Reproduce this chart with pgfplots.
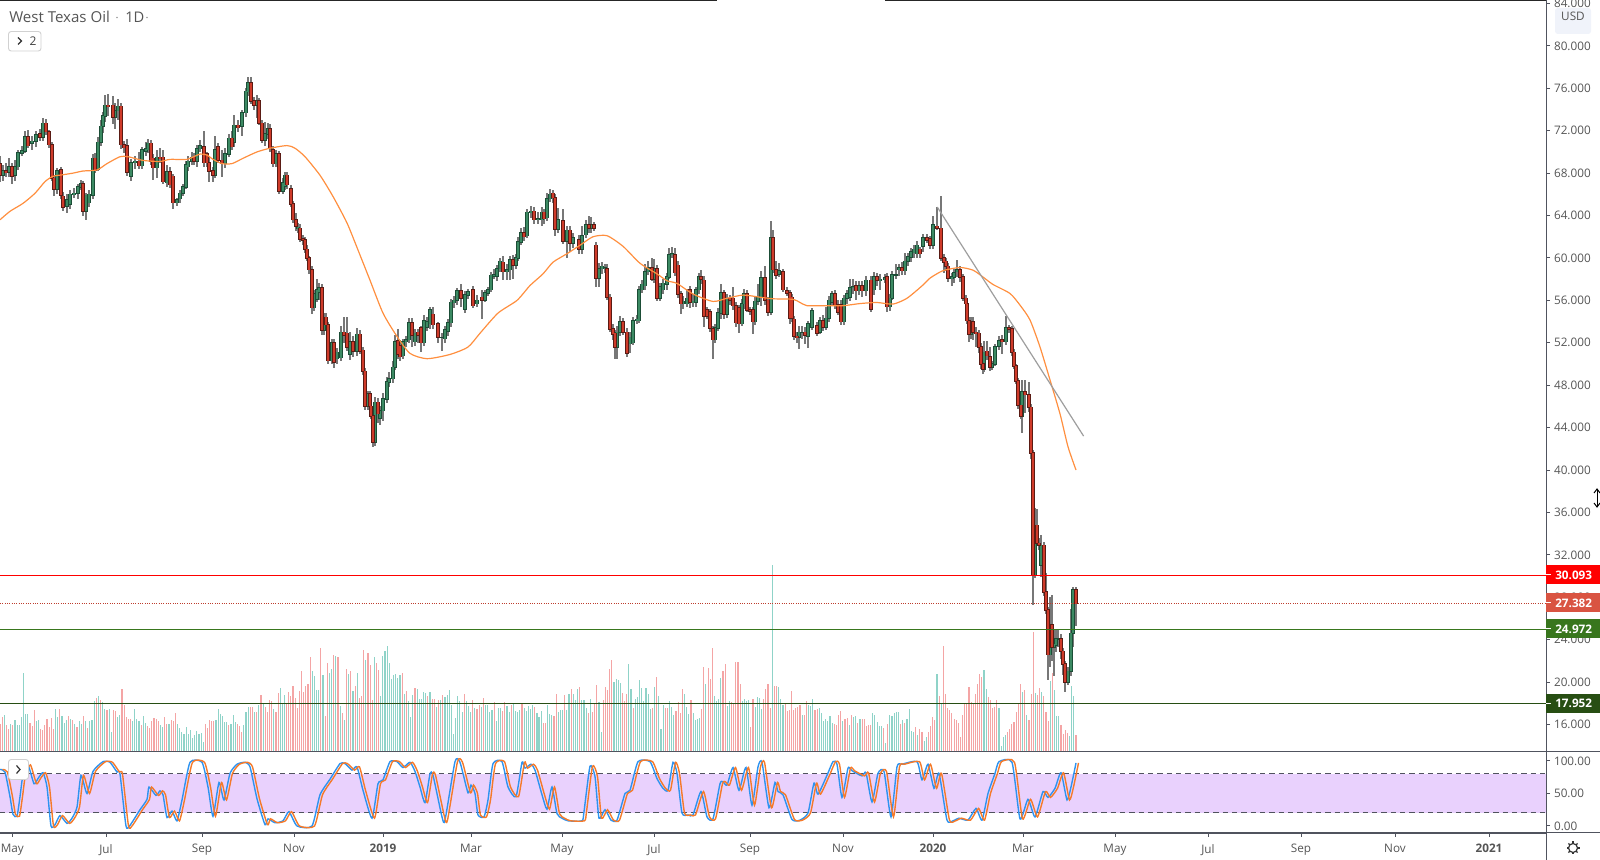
\documentclass[border=0pt]{standalone}
\usepackage{pgfplots}
\pgfplotsset{compat=1.18}
\usepackage{pgfplotstable}
\usepackage{fontspec}
\setmainfont{Open Sans}
\definecolor{txt}{HTML}{555555}
\definecolor{axl}{HTML}{50535E}
\definecolor{upb}{HTML}{3C8A63}
\definecolor{upd}{HTML}{1B4D36}
\definecolor{dnb}{HTML}{CF3B2A}
\definecolor{dnd}{HTML}{5A1B14}
\definecolor{wick}{HTML}{777777}
\definecolor{volr}{HTML}{F4A5A5}
\definecolor{volg}{HTML}{8FD3C8}
\definecolor{band}{HTML}{E9D1FD}
\definecolor{ma}{HTML}{FF8F3F}
\definecolor{kl}{HTML}{2E93F0}
\definecolor{dl}{HTML}{F57A2A}
\definecolor{t27}{RGB}{217,84,66}
\definecolor{t27l}{RGB}{190,60,45}
\definecolor{t25}{RGB}{56,118,29}
\definecolor{t18}{RGB}{39,78,19}
\definecolor{usdb}{HTML}{F0F3FA}
\pgfplotstableread{
x o c h l
0 68.9 67.8 69.6 67.2
3 67.8 68.2 68.8 67.3
6 68.2 68.1 69.0 67.6
9 68.1 68.6 69.4 67.6
12 68.6 67.7 69.0 67.0
15 67.8 68.6 69.2 67.3
18 68.6 69.9 70.2 68.3
22 69.9 70.1 70.6 69.6
25 70.1 71.4 72.0 69.9
28 71.4 70.6 72.1 70.4
32 70.8 71.0 71.5 70.2
36 71.0 71.6 72.0 70.5
40 71.7 71.4 72.2 71.0
43 71.4 72.7 73.2 71.0
46 72.7 71.9 73.1 71.6
49 71.9 70.7 72.1 70.4
52 70.7 67.5 70.9 67.3
54 67.5 66.5 67.8 65.8
57 66.5 68.2 68.5 66.0
61 68.3 65.9 68.6 65.6
63 65.8 64.8 66.2 64.4
67 64.9 65.5 66.0 64.2
70 65.1 66.0 66.4 64.6
74 66.0 66.1 66.6 65.7
78 66.1 66.7 67.0 65.6
81 66.7 67.0 67.4 66.4
83 67.0 64.4 67.3 64.0
86 64.4 65.9 66.1 63.6
89 65.2 66.0 66.4 64.8
93 65.9 69.4 69.8 65.6
95 69.4 68.3 69.9 68.0
98 68.4 70.9 71.4 68.2
101 70.9 72.4 73.0 70.6
103 72.4 73.4 73.8 71.8
105 73.4 74.4 75.4 72.8
108 74.4 74.3 75.5 73.4
113 74.4 73.3 75.3 72.6
115 73.3 73.9 74.6 72.2
118 73.9 74.3 75.0 73.0
121 74.3 70.7 74.6 70.3
124 70.7 70.4 71.0 69.9
127 70.6 68.1 71.2 67.7
131 67.7 69.0 69.3 67.3
135 69.0 69.1 69.6 68.4
139 69.1 68.7 70.0 68.4
142 68.7 70.2 70.5 68.4
146 70.1 70.3 70.9 69.6
148 70.2 70.8 71.2 69.9
151 70.8 69.1 71.1 68.8
153 69.4 68.5 69.8 67.4
157 68.5 69.5 70.2 67.5
160 69.5 69.4 70.4 69.0
163 69.5 67.2 70.2 67.0
167 67.1 68.1 68.8 66.7
170 68.1 66.9 68.6 66.6
173 67.7 65.2 67.9 64.6
177 65.2 65.5 65.7 64.9
180 65.6 66.1 66.4 65.2
183 66.1 66.7 67.0 65.8
186 66.7 68.8 69.1 66.5
188 68.6 69.1 69.6 68.2
192 69.1 69.5 70.0 68.8
194 69.5 69.1 69.9 68.8
197 69.1 70.3 70.7 68.6
200 70.3 70.6 71.1 70.0
204 70.5 69.0 72.0 68.6
207 69.8 69.0 70.0 68.6
209 69.0 68.2 69.5 67.2
213 68.2 67.8 68.6 67.2
215 67.8 70.2 71.5 67.5
218 70.5 69.2 70.8 69.0
222 69.2 68.9 70.2 67.6
225 68.9 69.8 70.4 68.5
229 69.8 71.3 71.7 69.5
232 71.3 70.5 72.0 70.2
234 70.9 72.5 73.5 70.5
238 72.5 72.3 73.0 71.9
242 72.4 73.7 74.0 71.5
246 73.7 75.7 76.0 73.3
248 75.7 76.5 77.1 75.3
251 76.5 74.8 77.1 74.5
254 74.8 74.4 75.2 74.0
257 74.4 74.8 75.4 73.2
259 74.8 72.7 75.1 72.5
262 72.7 71.1 73.0 70.8
265 71.1 71.7 72.8 70.6
268 71.7 72.2 72.7 71.2
270 72.2 70.3 72.6 70.0
273 70.2 68.9 70.6 68.6
276 68.9 69.8 70.2 68.6
279 69.8 66.3 70.1 66.0
283 66.3 67.1 67.5 66.0
285 66.8 67.8 68.1 66.4
287 67.8 66.9 68.1 66.5
291 66.5 65.1 66.9 64.8
293 65.1 63.6 65.4 63.3
296 63.6 63.0 64.2 62.5
298 62.8 62.9 63.3 62.4
300 62.8 61.8 63.2 61.5
303 61.8 61.7 62.2 61.2
305 61.7 60.8 62.0 60.5
307 60.8 60.0 61.2 59.7
309 60.0 58.9 60.2 58.5
312 58.9 55.3 59.2 54.7
314 55.3 56.6 57.0 55.0
317 56.1 57.0 58.0 55.8
319 56.8 57.2 57.6 56.0
322 57.2 53.2 57.5 52.7
324 53.2 54.4 54.8 52.7
326 54.4 53.7 54.8 53.3
328 53.7 50.3 54.0 50.0
332 50.3 52.0 52.4 50.0
334 52.0 50.2 52.4 49.6
337 50.5 51.1 51.5 50.0
341 50.6 53.0 53.6 50.3
344 53.0 52.7 54.4 52.0
347 52.9 51.6 54.4 51.2
350 50.9 52.1 53.0 50.4
353 52.1 51.2 52.6 50.7
357 51.2 52.8 53.4 50.8
360 52.8 51.2 53.2 50.9
363 51.3 49.3 51.6 49.0
365 49.3 46.0 49.6 45.7
368 46.0 47.2 47.5 45.7
370 47.2 46.0 47.5 45.7
371 46.0 45.1 46.3 44.8
373 45.1 42.6 45.4 42.2
375 42.6 46.4 46.9 42.3
378 46.4 45.3 46.8 44.4
380 44.9 45.6 46.0 44.2
383 45.6 46.7 47.3 44.6
387 46.7 48.3 48.8 46.3
389 48.3 48.6 49.2 47.8
393 48.6 49.7 50.3 48.2
395 49.7 52.1 52.7 49.4
398 52.2 50.9 53.3 50.5
400 51.7 50.7 52.3 50.3
403 50.8 52.1 52.4 50.5
406 52.1 52.3 52.6 51.6
409 52.3 53.9 54.3 52.0
412 53.9 52.7 54.3 51.6
415 52.1 52.9 53.3 51.7
418 53.0 52.7 53.3 52.0
421 53.4 52.0 53.6 51.1
424 52.0 54.1 54.6 51.7
427 53.5 54.0 54.4 53.1
430 53.8 55.1 55.4 53.3
433 54.7 53.7 55.4 53.3
438 53.8 52.5 54.0 52.0
442 52.5 52.5 52.9 51.2
445 52.4 53.2 53.6 52.0
448 53.1 53.9 54.2 52.6
451 53.9 55.8 56.1 53.5
454 55.8 56.0 56.4 55.3
457 56.0 56.9 57.2 55.6
461 56.9 56.2 57.5 55.4
465 55.2 56.5 56.9 54.8
468 56.5 56.8 57.1 56.1
473 57.0 55.5 57.4 55.3
477 55.7 56.0 56.5 55.4
482 56.3 56.0 57.0 54.2
485 56.0 56.7 57.0 55.8
488 56.7 57.0 57.3 56.4
491 57.0 58.35 58.7 56.8
494 58.3 58.4 59.0 58.0
497 58.3 59.0 59.3 57.8
500 59.0 59.7 60.0 58.7
503 59.6 58.7 60.2 57.9
507 58.7 58.9 59.4 57.9
510 58.9 59.8 60.2 57.9
513 59.8 59.3 60.3 58.0
516 59.3 60.0 60.4 59.0
518 60.0 61.5 62.0 59.7
521 61.5 62.4 62.8 61.2
524 62.4 62.0 62.9 61.6
527 62.1 64.3 64.6 61.9
531 64.3 64.4 64.9 63.8
534 64.4 63.6 64.8 63.2
538 63.6 63.7 64.3 63.2
542 63.6 64.3 64.8 63.0
544 64.3 63.7 64.6 63.2
547 63.8 65.6 66.1 63.5
550 65.6 66.0 66.5 65.3
553 66.1 65.7 66.4 65.2
555 65.7 62.7 66.0 62.1
558 62.7 63.6 64.7 62.4
563 63.5 61.6 64.6 61.3
567 61.6 62.6 63.0 60.0
570 62.6 61.4 63.0 60.6
573 61.4 61.9 62.4 60.9
579 61.7 60.8 62.2 60.4
582 60.8 62.1 63.0 60.4
586 62.2 63.1 63.6 61.9
589 63.1 62.8 64.0 62.4
591 62.8 63.1 63.9 62.4
594 63.1 62.8 63.4 62.5
596 61.2 58.1 61.5 57.3
599 58.1 59.0 59.5 57.3
602 59.0 59.2 59.6 58.5
605 59.0 59.1 59.4 58.6
607 59.0 56.3 59.4 56.0
610 56.3 53.3 56.6 53.0
613 53.3 52.8 53.8 52.3
615 52.9 51.6 53.2 50.5
617 51.6 53.0 53.6 50.5
620 53.0 54.0 54.5 52.6
623 54.0 53.0 54.3 52.7
627 53.0 51.0 53.4 50.7
630 51.9 52.5 53.0 51.0
633 52.0 54.1 54.4 51.8
637 54.1 54.2 54.6 53.8
639 54.1 57.0 57.4 53.9
642 57.0 57.5 57.9 56.7
645 57.4 58.7 59.4 57.0
648 58.7 59.1 59.7 58.4
652 59.1 58.0 60.0 57.8
654 58.0 59.0 59.9 57.6
657 59.0 56.2 59.3 55.9
660 56.2 57.3 57.6 55.9
663 57.0 57.6 58.0 56.6
667 57.5 58.2 58.6 57.0
669 58.2 60.3 60.9 58.0
672 60.3 60.4 61.0 60.0
675 60.3 58.6 60.9 58.3
678 59.3 56.6 59.7 56.2
681 56.6 55.7 56.9 54.7
683 55.7 55.9 56.4 55.2
687 55.7 56.2 57.1 55.4
690 57.0 55.8 57.4 55.3
693 55.8 55.9 56.6 55.4
696 55.8 57.0 57.3 55.4
699 57.0 58.2 58.6 56.6
701 58.2 58.0 58.9 57.5
704 57.9 54.5 58.3 53.5
707 55.1 54.5 55.4 54.2
710 54.9 53.4 55.2 53.0
713 53.3 52.3 53.6 50.5
715 52.3 53.4 53.8 52.0
718 53.4 54.8 55.3 53.1
721 54.8 56.7 57.5 54.2
724 56.7 54.7 57.0 54.2
727 54.7 56.2 56.6 54.3
730 56.2 56.0 56.5 55.6
733 56.2 55.5 57.3 55.1
736 55.5 53.9 55.8 53.5
739 55.3 53.8 55.6 52.9
742 53.8 55.7 56.1 53.6
744 55.7 56.6 57.1 55.2
747 56.6 55.1 57.0 54.9
750 55.1 55.0 55.4 54.6
753 55.1 54.0 55.4 52.8
755 54.0 55.9 56.3 53.7
758 55.9 56.3 57.5 55.6
761 56.3 58.1 58.8 55.5
765 58.1 56.0 59.2 55.6
768 56.0 54.9 56.3 54.5
771 54.9 61.9 63.5 54.6
773 61.9 58.9 62.6 58.6
776 58.9 58.4 59.7 58.0
779 58.5 58.8 59.5 58.2
783 58.7 57.0 59.0 56.8
787 56.9 56.7 57.3 56.4
790 56.7 54.3 57.0 53.8
792 56.3 54.3 56.6 54.0
794 54.2 52.6 54.5 52.3
797 52.6 52.5 53.0 52.0
799 52.5 53.0 53.6 51.4
802 53.0 53.0 53.6 52.4
805 53.0 52.7 53.5 51.9
808 52.6 53.8 54.1 51.5
812 53.5 55.0 55.3 53.2
817 53.6 52.9 54.0 52.6
820 53.0 54.1 54.4 52.8
823 54.1 53.5 54.6 53.1
826 53.5 54.3 55.4 53.2
829 54.3 56.0 56.4 54.0
832 55.8 56.6 56.9 55.5
835 56.6 55.6 57.0 55.2
838 55.6 54.9 56.0 54.6
841 55.6 54.0 56.0 53.7
844 54.0 56.2 56.5 53.7
847 56.2 56.6 57.0 55.7
850 56.3 57.2 58.0 55.9
853 57.2 57.3 58.0 56.6
856 57.4 56.9 57.8 56.0
859 56.9 57.4 57.8 56.5
862 57.4 56.9 57.8 56.3
866 56.9 57.9 58.3 56.4
871 57.9 55.2 58.3 54.9
874 57.0 58.2 58.7 56.5
877 58.2 57.9 58.6 57.4
880 57.9 58.0 58.5 57.0
885 58.0 58.1 58.5 57.6
887 58.2 55.4 58.6 54.9
890 55.4 56.2 56.6 55.0
892 56.2 58.4 58.8 56.0
896 58.4 58.4 59.4 58.0
899 58.9 59.1 59.4 58.3
902 59.1 58.8 59.6 58.4
905 58.8 59.7 60.5 58.4
908 59.7 60.1 60.5 59.2
911 60.1 60.6 60.9 59.6
914 60.5 60.8 61.2 60.0
917 60.4 61.2 61.6 60.0
920 60.8 60.4 61.0 60.0
923 61.1 61.9 62.3 60.6
927 61.9 61.7 62.3 61.4
930 61.8 61.2 62.1 60.8
933 61.2 63.1 64.0 60.8
937 63.0 62.8 64.8 62.6
941 62.8 60.0 65.8 59.7
944 60.0 59.6 60.4 58.6
946 59.7 59.2 60.0 58.8
948 59.2 58.1 59.5 57.7
952 58.1 58.2 58.6 57.4
954 58.2 58.6 59.0 57.6
957 58.7 58.9 59.8 58.2
960 58.9 58.2 59.2 57.7
963 58.2 56.2 58.5 55.9
966 56.2 55.7 56.5 55.3
967 55.7 54.1 56.0 53.8
969 54.1 52.8 54.4 52.1
971 52.8 54.0 54.4 52.4
973 54.0 53.0 54.4 52.3
976 53.0 52.9 53.5 51.6
979 52.9 51.6 53.2 51.0
981 51.6 50.0 52.0 49.5
983 50.0 49.5 50.3 49.1
984 49.5 51.1 52.2 49.2
987 51.2 50.8 52.2 50.4
990 50.7 49.7 51.6 49.3
992 49.7 50.0 50.3 49.4
995 50.0 51.6 51.9 49.8
999 51.7 52.2 52.6 51.3
1002 52.3 52.1 52.7 50.9
1006 52.1 53.4 54.5 51.8
1009 53.4 53.3 53.7 52.9
1012 53.3 51.1 53.6 50.8
1014 51.1 49.8 51.4 49.5
1016 49.8 48.4 50.0 48.1
1018 48.4 46.1 48.7 45.8
1021 46.1 45.1 46.4 44.8
1022 45.1 47.4 48.5 43.5
1025 47.4 47.1 48.5 45.4
1029 47.1 45.9 48.3 45.5
1031 45.9 41.6 46.2 41.0
1033 41.6 30.1 41.9 27.3
1035 30.1 34.8 36.4 29.8
1037 34.8 33.1 36.3 32.8
1039 33.1 32.9 33.6 32.5
1041 31.0 32.9 33.9 29.9
1044 32.9 28.5 33.2 28.1
1046 28.5 26.8 30.3 26.4
1048 26.8 22.6 27.1 20.2
1050 22.6 25.4 28.0 21.4
1052 25.4 23.3 28.2 22.0
1054 23.3 23.6 24.9 20.6
1056 23.5 24.1 25.0 22.8
1058 24.1 24.1 25.0 23.3
1061 24.1 22.9 24.5 22.2
1063 22.9 21.7 23.2 20.7
1065 21.7 20.0 22.0 19.1
1068 20.0 21.0 21.4 19.7
1071 21.0 24.6 26.9 20.6
1073 24.6 28.7 29.0 23.3
1076 28.7 27.382 29.0 25.3
}\candles
\pgfplotstableread{
v
-28
-35
37
-27
-23
28
-27
32
27
27
35
79
38
38
-29
-26
-42
31
32
-23
-22
-27
-33
-25
-34
-23
43
35
-43
36
29
32
-36
33
-32
28
-25
31
28
-36
31
-24
31
32
51
-54
56
-52
50
43
-42
43
20
-42
-41
35
37
-63
-47
-35
-33
-33
31
43
33
31
-27
36
29
-26
-24
-31
-34
-33
-31
27
25
-35
-28
28
-32
-31
-39
28
24
20
18
25
18
22
14
17
21
18
19
10
-28
-24
-32
-31
-31
32
43
38
36
30
30
-27
28
37
30
-28
-26
-20
27
40
45
-45
-45
40
-40
47
-57
49
-45
-40
-52
-51
43
-40
-59
64
49
57
-48
-60
-56
-66
-54
-44
-61
-81
-60
-66
-68
-95
81
76
62
62
-104
77
-36
-89
79
83
-97
96
-95
46
-39
32
-83
78
-81
61
-66
79
-54
-56
-102
92
-99
-87
-52
95
-89
-82
56
96
101
106
89
73
77
78
74
77
-79
58
-61
51
35
57
-64
63
53
53
60
59
-56
60
-53
-53
45
-52
52
-57
55
57
62
47
18
34
56
51
40
-58
51
46
40
-52
44
-43
-47
45
-54
47
47
40
42
-50
31
44
44
-41
-50
46
40
-47
49
41
40
42
-49
44
41
46
43
47
-45
39
35
41
-29
-29
47
38
37
-36
-58
40
42
42
-57
42
58
-63
58
52
63
-65
52
52
44
-39
53
-40
-49
-67
50
20
-52
-65
-62
-83
-92
70
73
72
69
-59
-51
-58
88
63
-44
53
55
72
64
51
64
58
43
-44
65
-75
56
23
47
-44
-44
51
45
37
-41
-50
-39
-63
58
45
38
-52
39
32
33
34
-43
-85
68
-84
-73
-104
56
51
53
74
-81
-88
46
51
-50
-49
-90
-90
-68
51
53
51
52
-25
-53
45
55
54
43
-53
-63
-68
-44
187
-66
-66
65
53
47
-49
-41
-42
-61
-42
-44
-45
-47
37
-37
-51
47
46
53
-42
-43
44
39
31
33
31
36
29
-28
-27
-37
-41
31
-33
-34
27
-37
35
36
-29
33
-33
-33
-26
-27
-27
39
37
30
26
26
-24
9
-28
37
36
39
40
40
-28
32
-29
33
43
21
20
-25
17
-23
-20
11
15
-20
-26
-35
-32
78
-56
49
-106
-58
-44
-42
-39
-33
-32
-29
-15
-37
-49
-49
-65
-50
-49
-58
-68
-78
-75
82
63
-55
-52
-44
-45
-52
44
6
15
17
-20
-23
-28
-30
-40
-49
-68
60
-62
37
-32
-58
-120
59
-57
-64
60
-56
-40
-31
71
-79
62
36
36
-27
-18
-22
-19
16
66
56
-17
}\vol
\pgfplotstableread{
x k
0 87
5 83
10 45
13 18
17 15
20 45
23 79
28 94
34 65
38 73
43 82
47 60
51 0
55 2
60 16
67 4
72 12
77 29
81 78
87 50
93 84
103 99
110 98
117 83
120 80
126 0
130 1
140 25
147 41
149 60
156 47
160 54
163 48
167 13
172 23
177 8
182 40
190 98
202 98
208 60
213 15
219 67
224 40
230 81
237 95
245 98
250 91
257 42
265 2
268 11
275 5
283 8
289 22
297 0
312 0
320 48
330 72
340 96
345 96
352 86
357 91
363 55
372 12
378 65
383 71
390 99
397 99
403 90
410 98
415 84
420 60
425 36
430 80
433 78
442 14
445 9
455 99
460 98
468 51
471 63
475 50
478 17
484 14
488 40
493 96
502 99
508 60
516 45
522 98
525 89
531 95
535 86
542 48
547 26
552 60
557 19
562 12
568 8
582 8
584 22
590 92
595 76
599 12
605 25
611 9
617 9
625 50
630 55
638 99
650 99
657 73
663 58
668 55
673 98
677 81
682 20
688 17
693 17
701 53
707 14
713 11
720 65
723 68
727 63
733 90
739 55
746 90
752 32
758 91
762 98
769 28
775 67
778 53
783 48
792 10
800 9
808 20
814 66
818 49
827 78
833 99
837 95
842 44
848 89
852 85
862 77
866 82
872 37
878 81
884 84
891 14
897 91
902 95
917 99
922 71
928 95
934 58
939 81
947 9
953 8
959 12
968 9
976 27
982 9
988 50
995 81
999 99
1012 98
1020 11
1028 41
1035 14
1043 53
1048 44
1055 58
1061 82
1067 40
1071 60
1076 97
}\stoch
\begin{document}
\begin{tikzpicture}
\path[use as bounding box] (0,0) rectangle (1200pt,645pt);
\pgfplotstablegetrowsof{\vol}\pgfmathsetmacro{\nv}{\pgfplotsretval}
% volume
\begin{axis}[at={(0,81pt)},anchor=south west,scale only axis,width=1159.5pt,height=564pt,
  hide axis,xmin=0,xmax=1546,ymin=0,ymax=752,unbounded coords=discard]
\addplot[ycomb,draw=volg,line width=.85pt,mark=none] table[x index=0,y index=0,x expr=\coordindex*1076/(\nv-1),y expr=\thisrow{v}>0?\thisrow{v}:nan] {\vol};
\addplot[ycomb,draw=volr,line width=.85pt,mark=none] table[x index=0,y index=0,x expr=\coordindex*1076/(\nv-1),y expr=\thisrow{v}<0?-\thisrow{v}:nan] {\vol};
\end{axis}
% price
\begin{axis}[at={(0,81pt)},anchor=south west,scale only axis,width=1159.5pt,height=564pt,
  xmin=0,xmax=1546,ymin=13.406,ymax=84.33,
  axis x line=none,axis y line=right,axis line style={draw=axl,-},
  ytick={16,20,...,84},tick align=outside,major tick length=3pt,
  y tick style={draw=axl,line width=.75pt},
  tick label style={font=\fontsize{8.8}{10}\selectfont,text=txt},
  yticklabel style={anchor=west,xshift=-.5pt,/pgf/number format/.cd,fixed,fixed zerofill,precision=3,assume math mode=true},
  scaled y ticks=false,unbounded coords=discard]
\addplot[forget plot,draw=none,mark=none,error bars/.cd,y dir=both,y explicit,error mark=none,
  error bar style={draw=wick,line width=.8pt}]
  table[x=x,y expr=(\thisrow{h}+\thisrow{l})/2,y error expr=(\thisrow{h}-\thisrow{l})/2] {\candles};
\addplot[forget plot,draw=none,mark=none,error bars/.cd,y dir=both,y explicit,error mark=none,
  error bar style={draw=upd,line width=2.5pt}]
  table[x=x,y expr=\thisrow{c}<\thisrow{o}?nan:(\thisrow{o}+\thisrow{c})/2,y error expr=abs(\thisrow{o}-\thisrow{c})/2+0.06] {\candles};
\addplot[forget plot,draw=none,mark=none,error bars/.cd,y dir=both,y explicit,error mark=none,
  error bar style={draw=upb,line width=1.1pt}]
  table[x=x,y expr=\thisrow{c}<\thisrow{o}?nan:(\thisrow{o}+\thisrow{c})/2,y error expr=abs(\thisrow{o}-\thisrow{c})/2] {\candles};
\addplot[forget plot,draw=none,mark=none,error bars/.cd,y dir=both,y explicit,error mark=none,
  error bar style={draw=dnd,line width=2.5pt}]
  table[x=x,y expr=\thisrow{c}<\thisrow{o}?(\thisrow{o}+\thisrow{c})/2:nan,y error expr=abs(\thisrow{o}-\thisrow{c})/2+0.06] {\candles};
\addplot[forget plot,draw=none,mark=none,error bars/.cd,y dir=both,y explicit,error mark=none,
  error bar style={draw=dnb,line width=1.1pt}]
  table[x=x,y expr=\thisrow{c}<\thisrow{o}?(\thisrow{o}+\thisrow{c})/2:nan,y error expr=abs(\thisrow{o}-\thisrow{c})/2] {\candles};
\addplot[ma,line width=.9pt,mark=none,smooth,tension=.4] coordinates {(0,63.6)(10,64.4)(23,65.15)(35,66.1)(45,67.2)(53,67.7)(63,67.85)(73,68)(83,68.2)(97,68.3)(107,68.9)(120,69.55)(128,69.55)(143,69.2)(160,69.1)(170,69.3)(187,69.3)(200,69.8)(207,69.7)(213,69.3)(222,68.9)(232,68.9)(243,69.4)(257,70)(270,70.35)(287,70.6)(295,70.35)(305,69.55)(320,67.8)(333,65.8)(347,63.3)(358,60.75)(370,57.9)(383,54.8)(397,52.6)(410,51)(427,50.5)(450,50.9)(468,51.6)(480,52.9)(498,54.8)(517,56)(530,57.4)(543,58.5)(553,59.6)(567,60.4)(580,61.2)(593,62)(607,62.1)(623,61.1)(640,59.5)(657,58.5)(667,57.85)(677,57.6)(693,56.6)(713,55.9)(727,56.2)(743,56.5)(760,56.3)(773,56.15)(793,56.1)(800,55.8)(807,55.5)(823,55.5)(843,55.5)(860,55.7)(877,55.8)(893,55.65)(907,56.2)(923,57.45)(930,58.1)(943,58.8)(960,59.1)(973,58.85)(983,58.2)(993,57.5)(1010,56.65)(1020,55.55)(1030,54.15)(1040,51.6)(1050,48.5)(1060,45.3)(1068,42.2)(1076,40)};
\addplot[color=black!38,line width=.9pt,mark=none] coordinates {(937.3,64.8)(1083.6,43.2)};
\addplot[color=red,line width=.8pt,mark=none] coordinates {(0,30.093)(1546,30.093)};
\addplot[color=t27l,line width=.75pt,densely dotted,mark=none] coordinates {(0,27.382)(1546,27.382)};
\addplot[color=t25,line width=.8pt,mark=none] coordinates {(0,24.972)(1546,24.972)};
\addplot[color=t18,line width=.8pt,mark=none] coordinates {(0,17.952)(1546,17.952)};
\end{axis}
% stochastic
\begin{axis}[at={(0,20.25pt)},anchor=south west,scale only axis,width=1159.5pt,height=60.75pt,
  xmin=0,xmax=1546,ymin=-10.77,ymax=113.85,
  axis x line=bottom,axis y line=right,axis line style={draw=axl,-},
  ytick={0,50,100},tick align=outside,major tick length=3pt,
  tick style={draw=axl,line width=.75pt},
  xtick={12.3,106,202,294,383,471,562,654,750,843,933,1023,1115,1208,1301,1395,1489},
  xticklabels={May,Jul,Sep,Nov,\textbf{2019},Mar,May,Jul,Sep,Nov,\textbf{2020},Mar,May,Jul,Sep,Nov,\textbf{2021}},
  tick label style={font=\fontsize{8.8}{10}\selectfont,text=txt},
  xticklabel style={yshift=-2pt},
  yticklabel style={anchor=west,xshift=-.5pt,/pgf/number format/.cd,fixed,fixed zerofill,precision=2,assume math mode=true}]
\fill[band] (axis cs:0,20) rectangle (axis cs:1546,80);
\addplot[draw=axl,dash pattern=on 4pt off 3pt,line width=.75pt,mark=none] coordinates {(0,80)(1546,80)};
\addplot[draw=axl,dash pattern=on 4pt off 3pt,line width=.75pt,mark=none] coordinates {(0,20)(1546,20)};
\addplot[kl,line width=1.05pt,mark=none,smooth,tension=.35] table[x=x,y=k] {\stoch};
\addplot[dl,line width=1.05pt,mark=none,smooth,tension=.35] table[x expr=\thisrow{x}+2.5,y=k] {\stoch};
\end{axis}
% overlay in pixel coordinates
\begin{scope}[shift={(0pt,645pt)},x=.75pt,y=-.75pt]
\draw[axl,line width=.75pt] (0,752)--(1600,752);
\draw[axl,line width=.75pt] (0,833)--(1600,833);
\draw[axl,line width=.75pt] (1546,0)--(1546,860);
\draw[black!85,line width=1.2pt] (0,0)--(717,0);
\draw[black!85,line width=1.2pt] (885,0)--(1546,0);
\def\tagg#1#2#3{\fill[#2] (1546,#1-9.5) rectangle (1600,#1+9.5);
  \draw[white,line width=.75pt] (1546,#1)--(1551,#1);
  \node[anchor=west,inner sep=0,text=white,font=\fontsize{8.8}{10}\selectfont] at (1555,#1) {\textbf{#3}};}
\tagg{575}{red}{30.093}
\tagg{603}{t27}{27.382}
\tagg{629}{t25}{24.972}
\tagg{703.5}{t18}{17.952}
\fill[usdb,rounded corners=2pt] (1555,8) rectangle (1591,34);
\node[text=txt,font=\fontsize{8.8}{10}\selectfont] at (1573,16) {USD};
\node[anchor=base west,inner sep=0,text=txt,font=\fontsize{11.3}{12}\selectfont] at (9,22.5) {West Texas Oil};
\node[anchor=base west,inner sep=0,text=txt,font=\fontsize{11}{12}\selectfont] at (125,22.5) {1D};
\fill[txt!60] (117,17.5) circle (.8);
\fill[txt!60] (147,17.5) circle (.8);
\draw[black!18,fill=white,rounded corners=2pt,line width=.7pt] (8.5,31.5) rectangle (41,51);
\draw[black!80,line width=.9pt] (18,37.5)--(21.5,41)--(18,44.5);
\node[text=black!75,inner sep=0,font=\fontsize{9}{10}\selectfont] at (33,41) {2};
\draw[black!18,fill=white,rounded corners=2pt,line width=.7pt] (8.5,759.5) rectangle (28.5,779.5);
\draw[black!80,line width=.9pt] (16.5,765.5)--(20,769.5)--(16.5,773.5);
\draw[black!80,line width=.9pt] (1573,848) circle (4.5);
\foreach \a in {0,45,...,315}{\draw[black!80,line width=.9pt] (1573,848)++(\a:4.5)--++(\a:2);}
\draw[black,line width=.75pt] (1597,490)--(1597,506);
\draw[black,line width=.75pt] (1594,493)--(1597,489)--(1600,493);
\draw[black,line width=.75pt] (1594,503)--(1597,507)--(1600,503);
\end{scope}
\end{tikzpicture}
\end{document}
